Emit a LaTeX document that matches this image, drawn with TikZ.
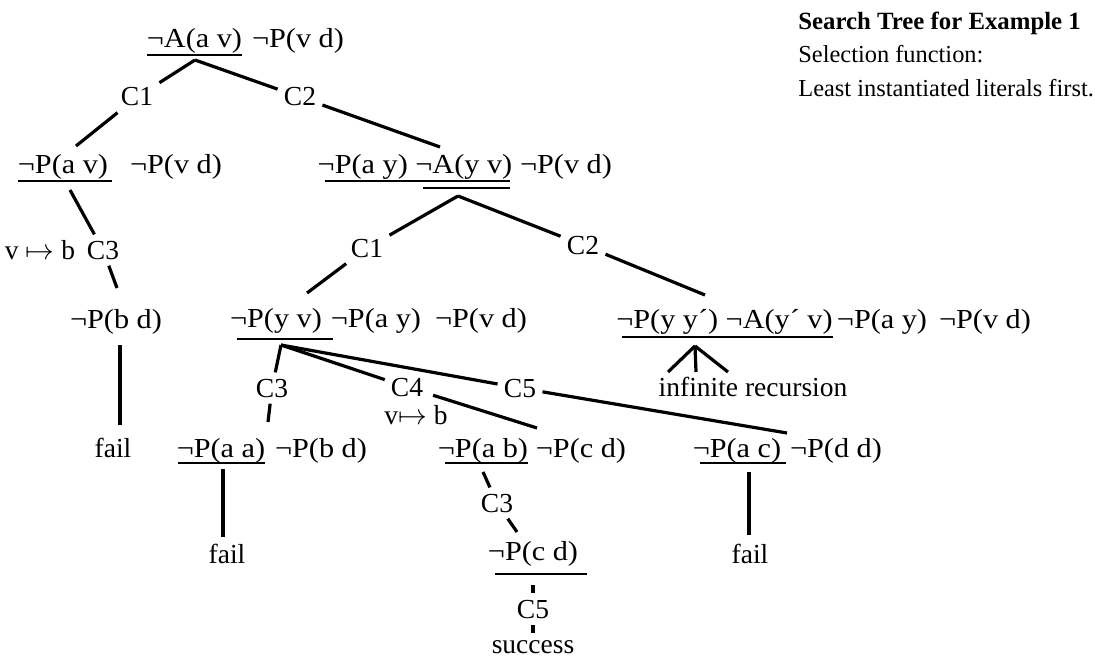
\documentclass[tikz,border=0pt]{standalone}
\usepackage{fontspec}
\setmainfont{Liberation Serif}
\newfontfamily\fmlfont[FakeStretch=1.1]{Liberation Serif}
\begin{document}
\begin{tikzpicture}[x=0.5pt,y=-0.5pt,
  txt/.style={font=\fontsize{13.75}{16}\selectfont, inner sep=0pt, anchor=base},
  fml/.style={txt, font=\fontsize{13.75}{16}\fmlfont},
  side/.style={txt, anchor=base west, font=\fontsize{12.2}{15}\selectfont},
  lab/.style={txt, inner sep=3pt},
  edge/.style={line width=1.6pt},
  ul/.style={line width=1.4pt}]
\useasboundingbox (0,0) rectangle (1095,663);

% title block
\node[side, font=\fontsize{12.4}{15}\selectfont\bfseries] (title) at (798,30) {Search Tree for Example 1};
\node[side] (sel) at (798,63) {Selection function:};
\node[side] (least) at (798,97) {Least instantiated literals first.};

% root
\node[fml] (r1) at (194.5,48) {¬A(a v)};
\node[fml] (r2) at (298,48) {¬P(v d)};
\draw[ul] (147,55) -- (242,55);
\coordinate (rx) at (195,60);

% left child
\node[fml] (l1) at (63,174) {¬P(a v)};
\node[fml] (l2) at (176,174) {¬P(v d)};
\draw[ul] (18,181) -- (112,181);
\coordinate (lin) at (76,146);
\coordinate (lout) at (70,190);

% right child
\node[fml] (rc1) at (415,174) {¬P(a y) ¬A(y v)};
\node[fml] (rc2) at (566,174) {¬P(v d)};
\draw[ul] (325,181) -- (510,181);
\draw[ul] (423,188) -- (510,188);
\coordinate (rin) at (440,147);
\coordinate (rx2) at (458,196);

% edge labels level 1
\node[lab] (c1) at (137,106) {C1};
\node[lab] (c2) at (300,106) {C2};
\draw[edge] (rx) -- (c1) -- (lin);
\draw[edge] (rx) -- (c2) -- (rin);

% left branch
\node[lab] (c3a) at (103,259) {C3};
\node[txt] (map1) at (40,259) {v $\mapsto$ b};
\coordinate (bdin) at (117,288);
\draw[edge] (lout) -- (c3a) -- (bdin);
\node[fml] (bd) at (116,328) {¬P(b d)};
\coordinate (bdout) at (120,345);
\node[txt] (fail1) at (113,457) {fail};
\coordinate (f1in) at (120,425);
\draw[edge] (bdout) -- (f1in);

% middle node
\node[fml] (n1) at (276,327) {¬P(y v)};
\node[fml] (n2) at (376,327) {¬P(a y)};
\node[fml] (n3) at (481,327) {¬P(v d)};
\draw[ul] (237,339) -- (333,339);
\coordinate (nin) at (307,293);
\coordinate (nx) at (281,345);

% right-right node
\node[fml] (m1) at (724.5,328) {¬P(y y´) ¬A(y´ v)};
\node[fml] (m2) at (882,328) {¬P(a y)};
\node[fml] (m3) at (985,328) {¬P(v d)};
\draw[ul] (622,337) -- (833,337);
\coordinate (min) at (705,295);

\node[lab] (c1b) at (367,257) {C1};
\node[lab] (c2b) at (583,254) {C2};
\draw[edge] (rx2) -- (c1b) -- (nin);
\draw[edge] (rx2) -- (c2b) -- (min);

% infinite recursion
\coordinate (mx) at (695,346);
\coordinate (ir1) at (668,372);
\coordinate (ir2) at (696,372);
\coordinate (ir3) at (728,372);
\draw[edge] (mx) -- (ir1);
\draw[edge] (mx) -- (ir2);
\draw[edge] (mx) -- (ir3);
\node[txt] (inf) at (753,396) {infinite recursion};

% children of middle node
\node[lab] (c3c) at (272,397) {C3};
\node[txt, inner sep=1pt] (c4) at (407,396) {C4};
\node[lab] (c5) at (520,397) {C5};
\node[txt] (map2) at (416,424) {v$\mapsto$ b};
\coordinate (aain) at (268,422);
\coordinate (abin) at (537,428);
\coordinate (acin) at (787,433);
\draw[edge] (nx) -- (c3c) -- (aain);
\draw[edge, shorten >=2pt] (nx) -- (c4);
\draw[edge, shorten <=4pt] (c4) -- (abin);
\draw[edge] (nx) -- (c5) -- (acin);

% bottom row: aa
\node[fml] (aa1) at (221,457) {¬P(a a)};
\node[fml] (aa2) at (321,457) {¬P(b d)};
\draw[ul] (178,463) -- (265,463);
\coordinate (aaout) at (223,469);
\coordinate (f2in) at (223,537);
\draw[edge] (aaout) -- (f2in);
\node[txt] (fail2) at (227,563) {fail};

% bottom row: ab
\node[fml] (ab1) at (483,457) {¬P(a b)};
\node[fml] (ab2) at (581,457) {¬P(c d)};
\draw[ul] (445,463) -- (528,463);
\coordinate (about) at (483,472);
\node[lab] (c3d) at (497,512) {C3};
\coordinate (cdin) at (517,532);
\draw[edge] (about) -- (c3d) -- (cdin);
\node[fml] (cd) at (533,560) {¬P(c d)};
\draw[ul] (495,574) -- (587,574);
\coordinate (cdout) at (533,585);
\node[lab] (c5b) at (533,618) {C5};
\coordinate (sin) at (533,633);
\draw[edge] (cdout) -- (c5b) -- (sin);
\node[txt] (succ) at (533,653) {success};

% bottom row: ac
\node[fml] (ac1) at (737,457) {¬P(a c)};
\node[fml] (ac2) at (836,457) {¬P(d d)};
\draw[ul] (700,463) -- (786,463);
\coordinate (acout) at (749,472);
\coordinate (f3in) at (749,535);
\draw[edge] (acout) -- (f3in);
\node[txt] (fail3) at (750,563) {fail};
\end{tikzpicture}
\end{document}
